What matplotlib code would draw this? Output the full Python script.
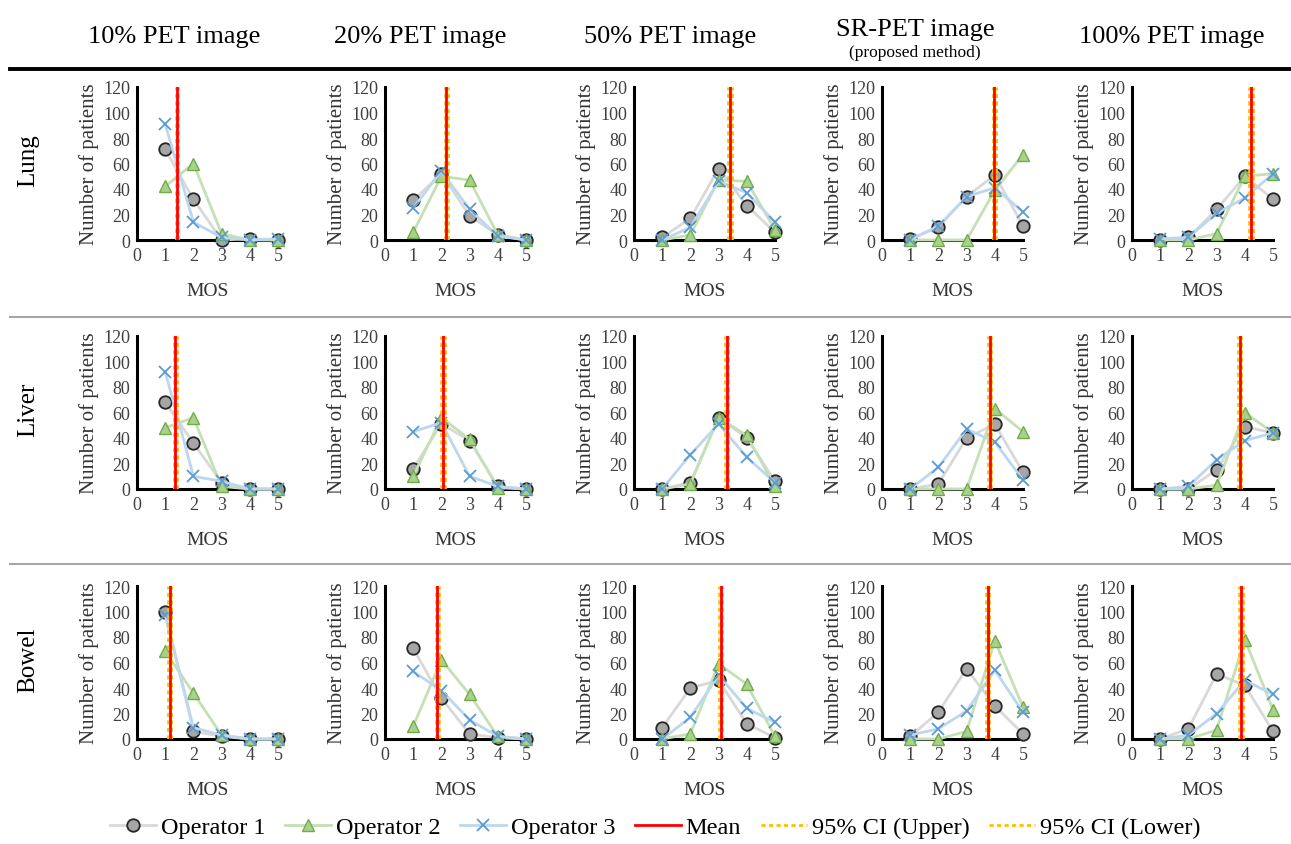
import matplotlib
matplotlib.use("Agg")
import matplotlib.pyplot as plt
from matplotlib.lines import Line2D

plt.rcParams['font.family'] = ['Liberation Serif', 'DejaVu Serif']

mos = [1, 2, 3, 4, 5]
organs = ["Lung", "Liver", "Bowel"]
col_titles = ["10% PET image", "20% PET image", "50% PET image", "SR-PET image", "100% PET image"]

# counts per image type (10%, 20%, 50%, SR, 100%), one list per MOS score
lung_op1 = [[71, 32, 0, 1, 0], [31, 52, 19, 4, 0], [2, 17, 56, 27, 6], [1, 10, 34, 51, 11], [0, 2, 24, 50, 32]]
lung_op2 = [[42, 60, 5, 0, 0], [6, 50, 47, 4, 0], [0, 4, 47, 46, 8], [0, 0, 0, 39, 67], [0, 0, 5, 50, 52]]
lung_op3 = [[91, 14, 2, 0, 1], [25, 54, 24, 3, 0], [0, 10, 46, 37, 14], [0, 11, 34, 41, 22], [1, 2, 21, 33, 52]]

liver_op1 = [[68, 36, 5, 0, 0], [16, 51, 38, 2, 0], [0, 5, 56, 40, 6], [0, 4, 40, 51, 13], [0, 0, 15, 49, 44]]
liver_op2 = [[48, 56, 2, 0, 0], [10, 56, 39, 1, 0], [0, 4, 56, 42, 2], [0, 0, 0, 63, 45], [0, 0, 3, 60, 44]]
liver_op3 = [[92, 10, 6, 0, 0], [45, 52, 10, 2, 0], [0, 27, 51, 25, 5], [0, 17, 47, 37, 7], [0, 2, 23, 38, 44]]

bowel_op1 = [[100, 6, 2, 0, 0], [71, 32, 4, 1, 0], [9, 40, 46, 12, 1], [2, 21, 55, 26, 4], [0, 8, 51, 42, 6]]
bowel_op2 = [[69, 36, 3, 0, 0], [10, 62, 35, 2, 0], [0, 4, 59, 43, 2], [0, 0, 6, 77, 25], [0, 0, 7, 78, 23]]
bowel_op3 = [[97, 9, 3, 0, 0], [53, 38, 15, 2, 0], [0, 17, 50, 24, 13], [3, 8, 22, 54, 21], [0, 3, 20, 46, 35]]

lung_mean = [1.42, 2.18, 3.40, 3.98, 4.22]
liver_mean = [1.36, 2.06, 3.29, 3.82, 3.82]
bowel_mean = [1.16, 1.86, 3.07, 3.75, 3.86]

lung_ci = [[1.37, 1.47], [2.12, 2.24], [3.34, 3.46], [3.92, 4.04], [4.16, 4.28]]
liver_ci = [[1.31, 1.41], [2.00, 2.12], [3.23, 3.35], [3.76, 3.88], [3.76, 3.88]]
bowel_ci = [[1.11, 1.21], [1.80, 1.92], [3.01, 3.13], [3.69, 3.81], [3.80, 3.92]]

data = {
    "Lung": (lung_op1, lung_op2, lung_op3, lung_mean, lung_ci),
    "Liver": (liver_op1, liver_op2, liver_op3, liver_mean, liver_ci),
    "Bowel": (bowel_op1, bowel_op2, bowel_op3, bowel_mean, bowel_ci),
}

W, H = 1291, 845
fig = plt.figure(figsize=(W / 100, H / 100), dpi=100)

col_left = [137, 385, 634, 882, 1132]
col_center = [174, 420, 670, 915, 1172]
row_bottom = [241, 490, 740]
ax_w, ax_h = 141, 153

op_styles = [
    dict(color='#d9d9d9', lw=2, marker='o', ms=9, mfc='#a6a6a6', mec='#262626', mew=1.3),
    dict(color='#c5e0b4', lw=2, marker='^', ms=8, mfc='#a9d18e', mec='#70ad47', mew=1.0),
    dict(color='#bdd7ee', lw=2, marker='x', ms=8.5, mfc='#5b9bd5', mec='#5b9bd5', mew=1.3),
]
ci_color = '#ffc000'

for r, organ in enumerate(organs):
    op1, op2, op3, means, cis = data[organ]
    for c in range(5):
        ax = fig.add_axes([col_left[c] / W, 1 - row_bottom[r] / H, ax_w / W, ax_h / H])
        for ops, st in zip((op1, op2, op3), op_styles):
            ax.plot(mos, ops[c], clip_on=False, zorder=3, **st)
        ax.plot([cis[c][0]] * 2, [0, 120], color=ci_color, lw=2, ls=(0, (1.5, 1.2)), zorder=4)
        ax.plot([cis[c][1]] * 2, [0, 120], color=ci_color, lw=2, ls=(0, (1.5, 1.2)), zorder=4)
        ax.plot([means[c]] * 2, [0, 120], color='#ff0000', lw=2, zorder=5)
        ax.set_xlim(0, 5)
        ax.set_ylim(0, 120)
        ax.set_xticks(range(6))
        ax.set_yticks(range(0, 121, 20))
        ax.tick_params(length=0, labelsize=13, colors='#404040', pad=5)
        for s in ('top', 'right'):
            ax.spines[s].set_visible(False)
        for s in ('left', 'bottom'):
            ax.spines[s].set_linewidth(2.2)
            ax.spines[s].set_color('black')
        ax.set_facecolor('none')
        ax.set_xlabel("MOS", fontsize=14, color='#333333', labelpad=13)
        ax.set_ylabel("Number of patients", fontsize=15, color='#333333', labelpad=3)

    fig.text(28 / W, 1 - (row_bottom[r] - 80) / H, organ, rotation=90, fontsize=18,
             ha='center', va='center')

for c, t in enumerate(col_titles):
    if c == 3:
        fig.text(col_center[c] / W, 1 - 30 / H, t, fontsize=19, ha='center', va='center')
        fig.text(col_center[c] / W, 1 - 53 / H, "(proposed method)", fontsize=12.5,
                 ha='center', va='center')
    else:
        fig.text(col_center[c] / W, 1 - 37 / H, t, fontsize=19, ha='center', va='center')

# separators
fig.add_artist(Line2D([10 / W, 1], [1 - 70 / H] * 2, color='black', lw=2.8))
for y in (318, 565):
    fig.add_artist(Line2D([10 / W, 1], [1 - y / H] * 2, color='#a6a6a6', lw=1.5))

handles = [
    Line2D([], [], **op_styles[0]),
    Line2D([], [], **op_styles[1]),
    Line2D([], [], **op_styles[2]),
    Line2D([], [], color='#ff0000', lw=2),
    Line2D([], [], color=ci_color, lw=2, ls=(0, (1.5, 1.2))),
    Line2D([], [], color=ci_color, lw=2, ls=(0, (1.5, 1.2))),
]
labels = ["Operator 1", "Operator 2", "Operator 3", "Mean", "95% CI (Upper)", "95% CI (Lower)"]
fig.legend(handles, labels, loc='center', bbox_to_anchor=(655 / W, 1 - 828 / H), ncol=6,
           frameon=False, fontsize=17.5, handlelength=1.9, handletextpad=0.2, columnspacing=0.8)

fig.savefig("out.png", dpi=100)
